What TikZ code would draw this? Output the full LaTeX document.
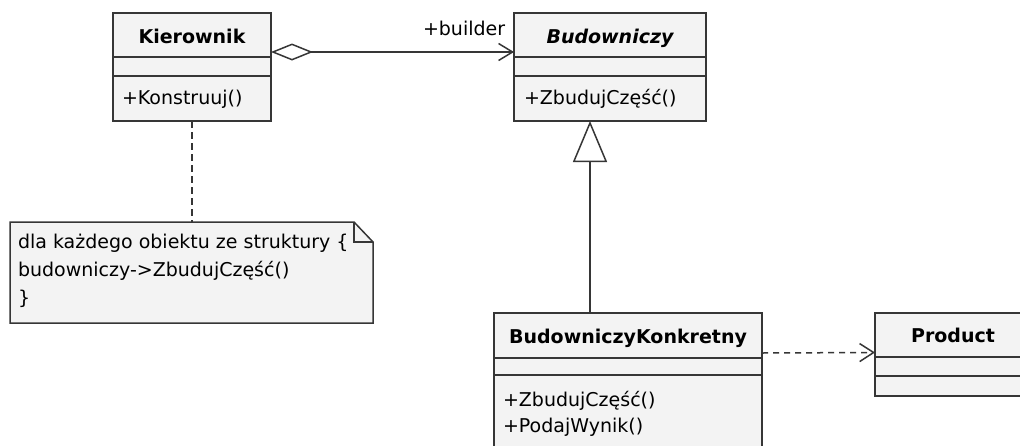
\documentclass[tikz,border=0pt]{standalone}
\usepackage{fontspec}
\setmainfont{DejaVu Sans}
\usetikzlibrary{arrows.meta}
\definecolor{linecol}{HTML}{363636}
\definecolor{boxfill}{HTML}{F3F3F3}
\tikzset{
  cls/.style={draw=linecol, fill=boxfill, line width=1.5pt, inner sep=0pt,
              outer sep=0pt, anchor=north west},
  txt/.style={inner sep=0pt, outer sep=0pt, text=black,
              font=\fontsize{19}{27}\selectfont},
  clsname/.style={txt, anchor=base, font=\fontsize{19}{27}\selectfont\bfseries},
  member/.style={txt, anchor=base west},
  conn/.style={draw=linecol, line width=1.5pt},
  aggregation/.style={conn,
    {Diamond[fill=white, length=42pt, width=17pt, line width=1.5pt]}-{Straight Barb[length=14pt, width=17pt, line width=1.5pt]}},
  inherit/.style={conn, -{Triangle[fill=white, length=41pt, width=34pt, line width=1.5pt]}},
  depend/.style={conn, dash pattern=on 6pt off 5pt,
    -{Straight Barb[length=14pt, width=18pt, line width=1.5pt]}},
  notelink/.style={conn, dash pattern=on 7pt off 4pt},
  notebox/.style={draw=linecol, fill=boxfill, line width=1.5pt, line join=miter},
}
\begin{document}
\begin{tikzpicture}[x=1pt, y=-1pt]
  \useasboundingbox (0,0) rectangle (1020,445);
  \clip (0,0) rectangle (1020,445);
  \fill[white] (0,0) rectangle (1020,445);

  % class Kierownik
  \node[cls, minimum width=158pt, minimum height=44pt] (kierHead) at (113,13) {};
  \node[cls, minimum width=158pt, minimum height=19pt] (kierAttr) at (113,57) {};
  \node[cls, minimum width=158pt, minimum height=45pt] (kierOps)  at (113,76) {};
  \node[clsname] (kierName) at (192,43) {Kierownik};
  \node[member] (kierOp1) at (122,104) {+Konstruuj()};

  % abstract class Budowniczy
  \node[cls, minimum width=192pt, minimum height=44pt] (budHead) at (514,13) {};
  \node[cls, minimum width=192pt, minimum height=19pt] (budAttr) at (514,57) {};
  \node[cls, minimum width=192pt, minimum height=45pt] (budOps)  at (514,76) {};
  \node[clsname, font=\fontsize{19}{27}\selectfont\bfseries\itshape] (budName) at (610,43) {Budowniczy};
  \node[member] (budOp1) at (524,104) {+ZbudujCzęść()};

  % class BudowniczyKonkretny
  \node[cls, minimum width=268pt, minimum height=45pt] (bkHead) at (494,313) {};
  \node[cls, minimum width=268pt, minimum height=17pt] (bkAttr) at (494,358) {};
  \node[cls, minimum width=268pt, minimum height=90pt] (bkOps)  at (494,375) {};
  \node[clsname] (bkName) at (628,343) {BudowniczyKonkretny};
  \node[member] (bkOp1) at (503,406) {+ZbudujCzęść()};
  \node[member] (bkOp2) at (503,432) {+PodajWynik()};

  % class Product
  \node[cls, minimum width=156pt, minimum height=44pt] (prodHead) at (875,313) {};
  \node[cls, minimum width=156pt, minimum height=19pt] (prodAttr) at (875,357) {};
  \node[cls, minimum width=156pt, minimum height=20pt] (prodOps)  at (875,376) {};
  \node[clsname] (prodName) at (953,342) {Product};

  % note with folded corner
  \node[inner sep=0pt, outer sep=0pt, minimum width=363pt, minimum height=101pt,
        anchor=north west] (note) at (10,222) {};
  \draw[notebox] (note.north west) -- ([xshift=-19pt]note.north east)
    -- ([yshift=-20pt]note.north east) -- (note.south east)
    -- (note.south west) -- cycle;
  \draw[notebox, fill=none] ([xshift=-19pt]note.north east)
    -- ([xshift=-19pt, yshift=-20pt]note.north east)
    -- ([yshift=-20pt]note.north east);
  \node[member] (noteL1) at (18,248) {dla każdego obiektu ze struktury \{};
  \node[member] (noteL2) at (18,276) {budowniczy->ZbudujCzęść()};
  \node[member] (noteL3) at (18,304) {\}};

  % connectors
  \draw[aggregation] ([yshift=-17pt]kierHead.east) -- ([yshift=-17pt]budHead.west);
  \node[member] (lblBuilder) at (423,35) {+builder};
  \draw[inherit] ([xshift=-38pt]bkHead.north) -- ([xshift=-20pt]budOps.south);
  \draw[depend] ([yshift=-17.5pt]bkHead.east) -- ([yshift=-17.5pt]prodHead.west);
  \draw[notelink] (kierOps.south) -- (kierOps.south |- note.north);
\end{tikzpicture}
\end{document}
